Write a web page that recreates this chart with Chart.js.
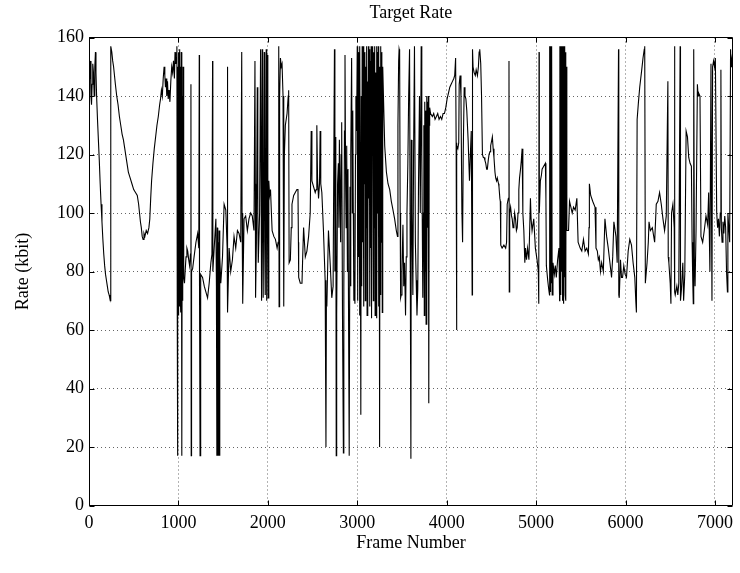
<!DOCTYPE html>
<html>
<head>
<meta charset="utf-8">
<script src="https://cdn.jsdelivr.net/npm/chart.js@4/dist/chart.umd.min.js"></script>
<style>
html,body{margin:0;padding:0;background:#fff;}
canvas{display:block;}
</style>
</head>
<body>
<canvas id="c" width="740" height="573" style="width:740px;height:573px"></canvas>
<script>
const chartTitle = 'Target Rate';
const xAxisTitle = 'Frame Number';
const yAxisTitle = 'Rate (kbit)';
const xTickValues = [0, 1000, 2000, 3000, 4000, 5000, 6000, 7000];
const yTickValues = [0, 20, 40, 60, 80, 100, 120, 140, 160];

const frameNumbers = [
  0,8,15,22,28,35,42,50,58,65,72,78,85,95,105,115,125,135,145,155,165,175,185,195,205,215,225,232,238,242,
  245,255,265,275,285,295,310,325,340,355,370,385,400,420,440,460,480,500,520,540,555,565,575,585,595,605,615,625,640,655,670,680,690,700,715,730,745,760,775,790,800,810,820,830,840,848,855,862,870,878,886,895,905,915,925,935,945,955,962,970,978,
  983,987,990,993,997,1000,1004,1008,1012,1016,1020,1024,1028,1032,1036,1040,1044,1048,1052,1056,1062,1068,
  1075,1085,1095,1104,1115,1125,1135,1140,1143,1147,1159,1175,1196,1215,1228,1233,1236,1242,1246,1252,1270,1289,1307,1326,1344,1363,1375,1382,1385,1400,1419,1425,1430,1435,1440,1445,1450,1455,1460,1465,1474,1493,1511,1530,1545,1548,1551,
  1567,1585,1604,1622,1641,1660,1678,1697,1708,1712,1719,1734,1752,1771,1789,1808,1826,1845,1856,1860,1863,1872,1882,1888,1893,1908,1919,1925,1930,1937,1942,1948,1960,1965,1971,1982,1986,1989,1997,2000,2004,
  2011,2020,2030,2040,2048,2067,2085,2104,2115,2122,2126,2132,2141,2150,2159,2170,2178,2185,2196,2215,2228,2233,2238,2252,2262,2270,2289,2307,2325,2337,2342,2345,2363,2382,2390,2400,2419,2437,2456,2474,2485,2493,2511,2530,2540,2548,2556,2567,2578,2585,2592,2604,2622,2641,2650,2655,2660,2678,2697,2715,
  2730,2745,2750,2760,2765,2770,2780,2789,2795,2800,2808,2814,2820,2826,2835,2845,2850,2857,2863,2870,2876,2882,2890,2896,2900,2910,2919,2925,2930,2937,2945,2950,2956,2962,2965,2974,2980,2985,2993,3000,
  3005,3010,3015,3020,3025,3030,3035,3040,3045,3050,3055,3060,3065,3070,3075,3080,3085,3090,3095,3100,3105,3110,3115,3120,3125,3130,3135,3140,3145,3150,3155,3160,3165,3170,3175,3180,3185,3190,3195,3200,3205,3210,3215,3220,3225,3230,3235,3240,3245,3250,3255,3260,3265,3270,3275,3280,3285,
  3289,3307,3326,3344,3363,3381,3400,3418,3437,3450,3455,3463,3468,3474,3480,3485,3492,3500,3511,3520,3529,3540,3548,3556,3566,3575,3585,3592,3600,3605,3612,3622,3630,3640,3650,3659,3668,3677,3685,3696,3705,3715,3722,3733,3740,3745,3750,3755,3760,3765,3770,3775,3780,3785,3790,3795,3800,3805,3810,3820,
  3840,3855,3870,3885,3900,3915,3930,3945,3960,3975,3990,4005,4020,4035,4050,4065,4080,4090,4100,4106,4110,4114,4125,4135,4140,4150,4160,4170,4178,4185,4196,4205,4215,4225,4240,4255,4265,4275,4285,4289,4295,4307,4320,4330,4344,4355,4363,4370,4381,4390,4400,4410,4418,4428,4437,4447,4455,4465,4474,4485,4492,4505,4511,4520,4529,4540,4548,4558,4566,4580,4585,4595,4600,
  4605,4620,4640,4660,4670,4677,4690,4697,4700,4705,4715,4725,4733,4742,4752,4760,4770,4780,4789,4798,4807,4815,4826,4835,4844,4852,4863,4874,4882,4893,
  4905,4920,4937,4944,4955,4974,4992,5011,5025,5030,5033,5036,5048,5060,5067,5085,5104,5110,5115,5130,5141,5150,5152,5156,5160,5164,5168,5172,5176,5180,5189,5204,5215,5226,5241,5256,5263,5266,5270,5274,5278,5282,5286,5290,5294,5298,5302,5306,5310,5314,5318,5322,5326,5330,5334,5338,5344,5363,5374,5389,5404,5419,5437,5456,5470,5493,5511,5530,5548,5567,5585,5592,5596,5611,5633,5659,5670,5685,5696,5707,5720,5733,5752,5770,5789,5807,5826,5844,5857,5870,5893,5907,5922,5925,5930,5944,5955,5967,5981,5996,
  6011,6030,6048,6067,6085,6104,6115,6122,6130,6145,6159,6178,6196,6210,6215,6222,6241,6255,6263,6278,6300,6326,6344,6363,6381,6400,6419,6437,6456,6474,6478,6485,6500,6508,6515,6530,6545,6548,6552,6556,6574,6585,6596,6611,6615,6626,6641,6650,6663,6678,6693,6707,6722,6737,6745,6752,6758,6763,6770,6778,6789,6804,6812,6819,6833,6844,6863,6881,6900,6919,6930,6944,6956,6962,6967,6974,6985,6995,7005,7020,7030,7040,7050,7060,7067,7072,7080,7090,7100,7110,7120,7130,7140,7145,7155,7165,7175,7180,7190,7200
];

const targetRate = [
  146,150,152,140,137,144,151,148,140,150,155,148,140,132,125,118,110,103,97,91,86,82,79,77,75,73,72,71,70,70,
  157,155,152,150,147,144,140,137,133,130,127,125,122,118,114,112,110,108,107,106,103,100,97,95,92,91,93,92,94,93,95,98,105,111,117,122,126,130,133,137,139,142,140,146,150,147,143,146,140,145,139,142,138,145,150,148,152,146,155,151,153,
  157,66,17,150,70,155,65,152,68,156,72,150,66,155,75,17,140,70,150,80,78,76,
  80,85,88,87,84,82,86,144,17,80,81,85,90,93,88,154,75,17,78,79,78,75,73,71,76,83,86,152,80,88,98,75,17,95,17,90,17,94,17,85,76,85,103,101,88,150,66,
  88,80,84,92,88,94,93,90,155,100,69,98,99,94,98,100,99,94,152,110,71,90,143,100,83,100,156,110,70,156,100,71,155,90,72,156,100,70,154,110,71,
  111,106,108,100,94,92,91,88,90,157,68,140,153,150,151,140,68,120,130,134,140,142,83,84,95,103,106,107,108,108,90,78,76,76,85,95,85,87,92,100,128,111,109,107,108,130,112,105,110,128,110,107,94,77,20,70,68,94,83,71,
  75,156,80,126,17,65,110,117,95,125,106,90,120,131,65,18,75,128,154,110,95,123,80,115,83,17,109,75,120,153,100,135,100,70,80,69,120,140,128,157,
  70,155,85,150,65,157,100,31,140,75,157,90,150,68,157,110,155,70,150,95,157,65,145,80,157,105,156,68,152,88,157,64,150,120,157,70,155,95,157,65,148,85,157,64,155,100,157,68,150,20,150,72,157,90,155,66,150,
  145,123,114,110,108,104,101,98,94,92,130,152,156,155,100,71,72,80,96,75,83,65,85,100,117,140,156,90,16,125,100,72,120,157,90,77,65,74,110,140,100,157,120,71,100,130,65,138,80,135,62,140,75,138,95,140,35,130,136,134,
  133,134,132,133,134,132,133,132,134,134,136,139,141,143,144,145,146,147,153,124,60,123,122,124,144,147,140,101,90,120,143,140,139,135,125,111,120,128,72,156,150,148,147,149,147,150,155,156,151,140,120,119,119,118,117,115,115,118,120,121,123,125,126,122,119,114,112,111,112,110,109,105,104,
  89,88,89,88,90,103,105,152,73,100,102,99,98,95,96,100,98,94,95,100,108,112,115,118,122,100,94,83,88,84,
  88,84,105,98,94,98,88,84,80,69,155,100,111,113,115,116,117,105,82,77,74,72,157,75,157,73,157,76,157,72,83,79,82,78,84,88,70,157,75,157,72,157,80,157,70,157,74,157,69,156,78,157,72,155,70,150,94,94,104,102,100,102,101,105,90,88,87,91,87,88,86,95,110,106,104,102,88,87,84,85,80,83,80,98,92,88,83,78,85,97,92,83,156,72,71,84,78,78,82,79,
  78,87,91,89,83,78,70,66,132,138,143,148,153,156,157,76,83,90,97,94,95,90,103,104,107,103,98,94,99,145,85,83,76,69,100,103,95,157,73,72,75,72,76,157,70,74,83,70,79,128,126,119,117,116,90,77,69,156,85,75,94,144,140,141,140,92,90,94,99,96,107,80,151,100,70,150,152,150,153,100,95,98,92,100,149,95,90,97,93,99,95,80,73,100,95,90,156,150,153,155
];

const FONT = 'Liberation Serif';

const framePlugin = {
  id: 'matlabFrame',
  afterDraw(chart) {
    const ctx = chart.ctx;
    const a = chart.chartArea;
    const xs = chart.scales.x, ys = chart.scales.y;
    const L = Math.round(a.left) + 0.5, R = Math.round(a.right) - 0.5;
    const T = Math.floor(a.top) + 0.5, B = Math.floor(a.bottom) + 0.5;
    ctx.save();
    ctx.strokeStyle = '#000';
    ctx.lineWidth = 1;
    ctx.beginPath();
    ctx.rect(L, T, R - L, B - T);
    const tl = 5;
    xTickValues.forEach(v => {
      const px = Math.round(xs.getPixelForValue(v)) + 0.5;
      ctx.moveTo(px, B); ctx.lineTo(px, B - tl);
      ctx.moveTo(px, T); ctx.lineTo(px, T + tl);
    });
    yTickValues.forEach(v => {
      const py = Math.round(ys.getPixelForValue(v)) + 0.5;
      ctx.moveTo(L, py); ctx.lineTo(L + tl, py);
      ctx.moveTo(R, py); ctx.lineTo(R - tl, py);
    });
    ctx.stroke();
    ctx.fillStyle = '#000';
    ctx.font = '18px "' + FONT + '"';
    ctx.textAlign = 'center';
    ctx.textBaseline = 'middle';
    ctx.fillText(chartTitle, (a.left + a.right) / 2, 13);
    ctx.restore();
  }
};

const points = frameNumbers.map((f, i) => ({ x: f, y: targetRate[i] }));

new Chart(document.getElementById('c'), {
  type: 'line',
  data: {
    datasets: [{
      data: points,
      borderColor: '#000',
      borderWidth: 1.1,
      pointRadius: 0,
      tension: 0,
      fill: false
    }]
  },
  options: {
    responsive: false,
    animation: false,
    events: [],
    layout: { padding: { left: 0, right: 3, top: 37.5, bottom: 0 } },
    plugins: { legend: { display: false }, title: { display: false }, tooltip: { enabled: false } },
    scales: {
      x: {
        type: 'linear',
        min: 0,
        max: 7200,
        afterBuildTicks: s => { s.ticks = xTickValues.map(v => ({ value: v })); },
        afterFit: s => { s.height = 67.5; },
        ticks: {
          padding: 7,
          color: '#000',
          autoSkip: false,
          maxRotation: 0,
          font: { family: FONT, size: 18 },
          callback: v => String(v)
        },
        grid: { color: 'rgba(0,0,0,0.6)', lineWidth: 1, drawTicks: false },
        border: { display: false, dash: [1, 3] },
        title: {
          display: true,
          text: xAxisTitle,
          color: '#000',
          font: { family: FONT, size: 18 },
          padding: { top: 0, bottom: 19 }
        }
      },
      y: {
        type: 'linear',
        min: 0,
        max: 160,
        afterBuildTicks: s => { s.ticks = yTickValues.map(v => ({ value: v })); },
        afterFit: s => { s.width = 89; },
        ticks: {
          padding: 5,
          color: '#000',
          font: { family: FONT, size: 18 },
          callback: v => String(v)
        },
        grid: { color: 'rgba(0,0,0,0.6)', lineWidth: 1, drawTicks: false },
        border: { display: false, dash: [1, 3] },
        title: {
          display: true,
          text: yAxisTitle,
          color: '#000',
          font: { family: FONT, size: 18 },
          padding: { top: 12, bottom: 0 }
        }
      }
    }
  },
  plugins: [framePlugin]
});
</script>
</body>
</html>
